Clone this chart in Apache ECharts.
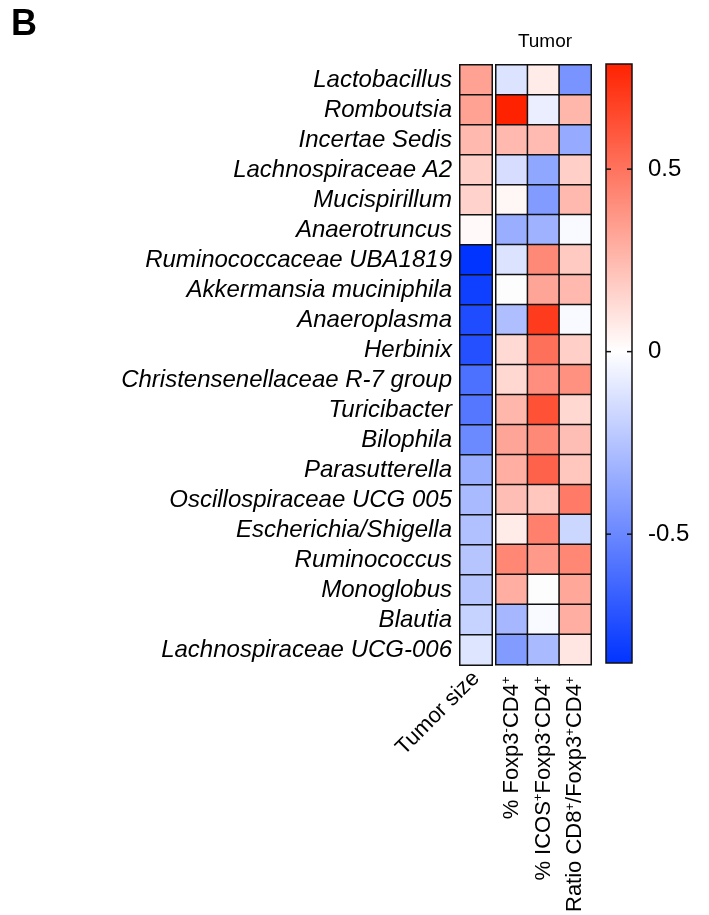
<!DOCTYPE html>
<html>
<head>
<meta charset="utf-8">
<script src="https://cdn.jsdelivr.net/npm/echarts@6/dist/echarts.min.js"></script>
<style>
  html, body { margin: 0; padding: 0; background: #fff; }
  #chart { width: 709px; height: 915px; }
</style>
</head>
<body>
<div id="chart"></div>
<script>
// Genera (rows, top to bottom)
const taxa = [
  'Lactobacillus', 'Romboutsia', 'Incertae Sedis', 'Lachnospiraceae A2',
  'Mucispirillum', 'Anaerotruncus', 'Ruminococcaceae UBA1819',
  'Akkermansia muciniphila', 'Anaeroplasma', 'Herbinix',
  'Christensenellaceae R-7 group', 'Turicibacter', 'Bilophila',
  'Parasutterella', 'Oscillospiraceae UCG 005', 'Escherichia/Shigella',
  'Ruminococcus', 'Monoglobus', 'Blautia', 'Lachnospiraceae UCG-006'
];

// Correlation coefficients per column
const tumorSize = [0.33, 0.33, 0.25, 0.17, 0.16, 0.02, -0.85, -0.80, -0.75, -0.73,
                   -0.60, -0.57, -0.49, -0.34, -0.29, -0.26, -0.24, -0.24, -0.19, -0.11];
const foxp3Neg = [-0.12, 0.79, 0.25, -0.14, 0.03, -0.34, -0.12, 0.00, -0.27, 0.13,
                  0.14, 0.26, 0.32, 0.29, 0.23, 0.07, 0.43, 0.29, -0.30, -0.42];
const icosFoxp3Neg = [0.07, -0.07, 0.24, -0.37, -0.42, -0.32, 0.42, 0.32, 0.70, 0.51,
                      0.40, 0.62, 0.42, 0.56, 0.20, 0.45, 0.36, 0.00, -0.02, -0.29];
const ratioCd8Treg = [-0.45, 0.26, -0.35, 0.17, 0.25, -0.02, 0.19, 0.25, -0.02, 0.17,
                      0.39, 0.14, 0.23, 0.20, 0.47, -0.17, 0.43, 0.31, 0.29, 0.09];

const tumorColumn = ['Tumor size'];
const immuneColumns = [
  '{n|% Foxp3}{s|-}{n|CD4}{s|+}',
  '{n|% ICOS}{s|+}{n|Foxp3}{s|-}{n|CD4}{s|+}',
  '{n|Ratio CD8}{s|+}{n|/Foxp3}{s|+}{n|CD4}{s|+}'
];
const colorbarTicks = [-0.5, 0, 0.5];
const scaleMin = -0.853;
const scaleMax = 0.788;

const FONT = '"Liberation Sans", Arial, Helvetica, sans-serif';
const RED = [255, 34, 0];
const BLUE = [0, 51, 255];

// Diverging blue–white–red colour, white at exactly zero
function colorAt(v) {
  const end = v >= 0 ? RED : BLUE;
  const t = Math.min(1, v >= 0 ? v / scaleMax : v / scaleMin);
  const c = end.map(e => Math.round(255 + (e - 255) * t));
  return 'rgb(' + c.join(',') + ')';
}
const rampStops = [];
for (let i = 0; i <= 60; i++) rampStops.push(colorAt(scaleMin + (scaleMax - scaleMin) * i / 60));

const tumorData = tumorSize.map((v, r) => [0, r, v]);
const immuneData = [];
[foxp3Neg, icosFoxp3Neg, ratioCd8Treg].forEach((col, c) => {
  col.forEach((v, r) => immuneData.push([c, r, v]));
});

const hiddenAxis = {
  axisLine: { show: false }, axisTick: { show: false }, splitLine: { show: false }
};
const cellStyle = { borderColor: '#111', borderWidth: 1.5 };

const chart = echarts.init(document.getElementById('chart'), null, { renderer: 'canvas' });
chart.setOption({
  backgroundColor: '#fff',
  animation: false,
  textStyle: { fontFamily: FONT, color: '#000' },
  graphic: [
    { type: 'text', left: 11, top: 7,
      style: { text: 'B', font: 'bold 36px ' + FONT, fill: '#000' } },
    { type: 'text', x: 545, y: 32,
      style: { text: 'Tumor', font: '19px ' + FONT, fill: '#000', textAlign: 'center' } }
  ],
  grid: [
    { left: 460, top: 65, width: 32, height: 600 },
    { left: 496, top: 65, width: 95, height: 600 },
    { left: 606, top: 64, width: 26, height: 599 }
  ],
  xAxis: [
    { gridIndex: 0, type: 'category', data: tumorColumn, ...hiddenAxis,
      axisLabel: { interval: 0, rotate: 45, fontSize: 22, margin: 10, color: '#000' } },
    { gridIndex: 1, type: 'category', data: immuneColumns, ...hiddenAxis,
      axisLabel: {
        interval: 0, rotate: 90, margin: 12, color: '#000',
        rich: {
          n: { fontSize: 22, fontFamily: FONT, color: '#000' },
          s: { fontSize: 13, fontFamily: FONT, color: '#000', verticalAlign: 'top', padding: [0, 0, 10, 0] }
        }
      } },
    { gridIndex: 2, type: 'value', min: 0, max: 1, show: false }
  ],
  yAxis: [
    { gridIndex: 0, type: 'category', data: taxa, inverse: true, ...hiddenAxis,
      axisLabel: { interval: 0, fontSize: 24, fontStyle: 'italic', margin: 8, color: '#000' } },
    { gridIndex: 1, type: 'category', data: taxa, inverse: true, show: false },
    { gridIndex: 2, type: 'value', min: scaleMin, max: scaleMax, position: 'right',
      axisLine: { show: false }, splitLine: { show: false }, axisTick: { show: false },
      axisLabel: { customValues: colorbarTicks, fontSize: 24, margin: 16, color: '#000',
                   formatter: v => (v === 0 ? '0' : String(v)) } }
  ],
  visualMap: {
    type: 'continuous', show: false, seriesIndex: [0, 1],
    min: scaleMin, max: scaleMax, inRange: { color: rampStops }
  },
  series: [
    { type: 'heatmap', xAxisIndex: 0, yAxisIndex: 0, data: tumorData, itemStyle: cellStyle },
    { type: 'heatmap', xAxisIndex: 1, yAxisIndex: 1, data: immuneData, itemStyle: cellStyle },
    {
      // colour scale bar with short inner ticks on both edges
      type: 'custom', xAxisIndex: 2, yAxisIndex: 2, silent: true,
      data: [[scaleMin, scaleMax]],
      renderItem: function (params, api) {
        const top = api.coord([0, api.value(1)]);
        const bottom = api.coord([1, api.value(0)]);
        const zeroOffset = scaleMax / (scaleMax - scaleMin);
        const children = [{
          type: 'rect',
          shape: { x: top[0], y: top[1], width: bottom[0] - top[0], height: bottom[1] - top[1] },
          style: {
            fill: new echarts.graphic.LinearGradient(0, 0, 0, 1, [
              { offset: 0, color: colorAt(scaleMax) },
              { offset: zeroOffset, color: '#ffffff' },
              { offset: 1, color: colorAt(scaleMin) }
            ]),
            stroke: '#111', lineWidth: 1.5
          }
        }];
        colorbarTicks.forEach(t => {
          const l = api.coord([0, t]);
          const r = api.coord([1, t]);
          children.push({ type: 'line', shape: { x1: l[0], y1: l[1], x2: l[0] + 5, y2: l[1] },
                          style: { stroke: '#111', lineWidth: 1.5 } });
          children.push({ type: 'line', shape: { x1: r[0] - 5, y1: r[1], x2: r[0], y2: r[1] },
                          style: { stroke: '#111', lineWidth: 1.5 } });
        });
        return { type: 'group', children: children };
      }
    }
  ]
});
</script>
</body>
</html>
